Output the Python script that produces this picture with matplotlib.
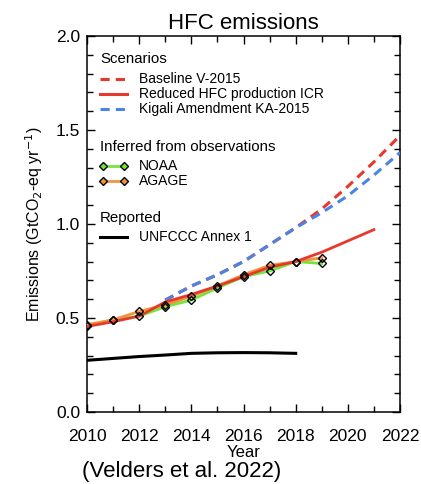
import matplotlib
matplotlib.use("Agg")
import matplotlib.pyplot as plt
from matplotlib.ticker import MultipleLocator

plt.rcParams['font.family'] = ['Liberation Sans', 'DejaVu Sans']

# Scenario projections (GtCO2-eq / yr)
years_icr = [2010, 2011, 2012, 2013, 2014, 2015, 2016, 2017, 2018, 2019, 2020, 2021]
icr = [0.455, 0.48, 0.51, 0.585, 0.625, 0.67, 0.72, 0.77, 0.80, 0.85, 0.91, 0.97]

years_scen = [2013, 2014, 2015, 2016, 2017, 2018, 2019, 2020, 2021, 2022]
baseline = [0.595, 0.67, 0.73, 0.80, 0.89, 0.98, 1.08, 1.20, 1.33, 1.47]
kigali = [0.595, 0.67, 0.73, 0.80, 0.89, 0.98, 1.06, 1.15, 1.26, 1.38]

# Emissions inferred from observations
years_obs = [2010, 2011, 2012, 2013, 2014, 2015, 2016, 2017, 2018, 2019]
noaa = [0.46, 0.49, 0.51, 0.56, 0.595, 0.66, 0.72, 0.75, 0.80, 0.79]
agage = [0.465, 0.49, 0.535, 0.57, 0.615, 0.67, 0.73, 0.78, 0.80, 0.82]

# Reported emissions
years_unfccc = [2010, 2011, 2012, 2013, 2014, 2015, 2016, 2017, 2018]
unfccc = [0.275, 0.285, 0.295, 0.303, 0.312, 0.315, 0.316, 0.315, 0.312]

RED = '#e8382b'
BLUE = '#4a84e6'
GREEN = '#72e63a'
ORANGE = '#f0943c'

fig = plt.figure(figsize=(4.21, 4.84), dpi=100)
ax = fig.add_axes([87 / 421, 1 - 412 / 484, 313 / 421, 376 / 484])

dash = (3.0, 2.0)
ax.plot(years_unfccc, unfccc, color='black', lw=2.2, zorder=2)
ax.plot(years_obs, noaa, color=GREEN, lw=2.0, zorder=3)
ax.plot(years_obs, agage, color=ORANGE, lw=2.0, zorder=3)
ax.plot(years_scen, baseline, color=RED, lw=2.2, ls=(0, dash), zorder=4)
ax.plot(years_scen, kigali, color=BLUE, lw=2.2, ls=(0, dash), zorder=5)
ax.plot(years_icr, icr, color=RED, lw=2.0, zorder=6)
ax.plot(years_obs, noaa, ls='none', marker='D', ms=4.5, mfc='none', mec='black', mew=1.0, zorder=7)
ax.plot(years_obs, agage, ls='none', marker='D', ms=4.5, mfc='none', mec='black', mew=1.0, zorder=7)

ax.set_xlim(2010, 2022)
ax.set_ylim(0.0, 2.0)
ax.xaxis.set_major_locator(MultipleLocator(2))
ax.xaxis.set_minor_locator(MultipleLocator(1))
ax.yaxis.set_major_locator(MultipleLocator(0.5))
ax.yaxis.set_minor_locator(MultipleLocator(0.1))
ax.yaxis.set_major_formatter(plt.FormatStrFormatter('%.1f'))
ax.tick_params(which='both', direction='in', top=True, right=True, width=1.0,
               labelsize=12.5)
ax.tick_params(axis='x', which='major', pad=12)
ax.tick_params(axis='y', which='major', pad=5)
ax.tick_params(which='major', length=6)
ax.tick_params(which='minor', length=4)
for s in ax.spines.values():
    s.set_linewidth(1.1)

ax.set_title('HFC emissions', fontsize=16, pad=5)
ax.set_xlabel('Year', fontsize=12, labelpad=1)
ax.set_ylabel('Emissions (GtCO$_2$-eq yr$^{-1}$)', fontsize=11.5, labelpad=8)

# Legend, drawn in axes coordinates
tr = ax.transAxes
fs = 10
hx0, hx1, tx = 0.042, 0.128, 0.166

def head(y, s):
    ax.text(hx0, y, s, transform=tr, fontsize=10.8, va='center', ha='left')

def entry(y, s, **kw):
    ax.plot([hx0, hx1], [y, y], transform=tr, **kw)
    ax.text(tx, y, s, transform=tr, fontsize=fs, va='center', ha='left')

head(0.939, 'Scenarios')
entry(0.886, 'Baseline V-2015', color=RED, lw=2.2, ls=(0, dash))
entry(0.847, 'Reduced HFC production ICR', color=RED, lw=2.2)
entry(0.807, 'Kigali Amendment KA-2015', color=BLUE, lw=2.2, ls=(0, dash))

head(0.705, 'Inferred from observations')
for y, c, s in [(0.654, GREEN, 'NOAA'), (0.614, ORANGE, 'AGAGE')]:
    ax.plot([hx0 + 0.01, hx1 - 0.01], [y, y], transform=tr, color=c, lw=2.0,
            marker='D', ms=4, mfc=c, mec='black', mew=1.0)
    ax.text(tx, y, s, transform=tr, fontsize=fs, va='center', ha='left')

head(0.516, 'Reported')
entry(0.465, 'UNFCCC Annex 1', color='black', lw=2.2)

fig.text(182 / 421, 1 - 472 / 484, '(Velders et al. 2022)', fontsize=16,
         ha='center', va='center')

fig.savefig('out.png', dpi=100)
